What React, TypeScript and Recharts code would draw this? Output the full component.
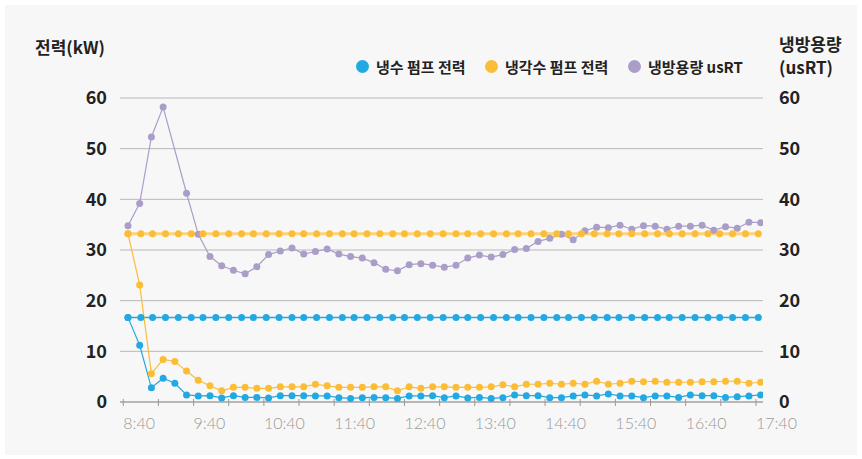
import { LineChart, Line, XAxis, YAxis, CartesianGrid } from 'recharts'

// measured points, every 10 minutes
const MEAS_TIMES = [
  '8:44', '8:54', '9:04', '9:14', '9:24', '9:34', '9:44', '9:54', '10:04', '10:14',
  '10:24', '10:34', '10:44', '10:54', '11:04', '11:14', '11:24', '11:34', '11:44', '11:54',
  '12:04', '12:14', '12:24', '12:34', '12:44', '12:54', '13:04', '13:14', '13:24', '13:34',
  '13:44', '13:54', '14:04', '14:14', '14:24', '14:34', '14:44', '14:54', '15:04', '15:14',
  '15:24', '15:34', '15:44', '15:54', '16:04', '16:14', '16:24', '16:34', '16:44', '16:54',
  '17:04', '17:14', '17:24', '17:34', '17:44',
]

const CHW_PUMP = [
  16.7, 11.2, 2.8, 4.7, 3.7, 1.4, 1.2, 1.25, 0.8, 1.25,
  0.9, 0.9, 0.8, 1.25, 1.25, 1.25, 1.2, 1.2, 0.85, 0.7,
  0.85, 0.9, 0.85, 0.7, 1.2, 1.2, 1.25, 0.85, 1.2, 0.8,
  0.9, 0.7, 0.85, 1.4, 1.25, 1.25, 0.85, 0.85, 1.2, 1.4,
  1.2, 1.6, 1.2, 1.2, 0.85, 1.2, 1.2, 0.9, 1.4, 1.25,
  1.25, 0.9, 1.05, 1.2, 1.4,
]

const CW_PUMP = [
  33.2, 23.1, 5.6, 8.4, 8.0, 6.1, 4.3, 3.2, 2.2, 2.9,
  2.9, 2.7, 2.7, 3.0, 3.0, 3.0, 3.5, 3.2, 2.9, 2.9,
  2.9, 3.0, 3.0, 2.2, 3.0, 2.7, 3.0, 3.0, 2.9, 2.9,
  2.9, 3.0, 3.4, 3.0, 3.5, 3.5, 3.7, 3.5, 3.7, 3.5,
  4.1, 3.5, 3.7, 4.1, 4.0, 4.1, 3.9, 3.9, 3.9, 4.0,
  4.0, 4.1, 4.1, 3.7, 3.9,
]

const COOLING_RT = [
  34.8, 39.2, 52.3, 58.2, null, 41.2, 33.1, 28.7, 26.9, 26.0,
  25.3, 26.7, 29.1, 29.8, 30.4, 29.2, 29.7, 30.2, 29.2, 28.7,
  28.4, 27.5, 26.2, 25.9, 27.1, 27.3, 27.0, 26.6, 27.0, 28.4,
  29.0, 28.6, 29.1, 30.1, 30.3, 31.7, 32.3, 33.1, 32.0, 33.8,
  34.5, 34.4, 34.9, 34.1, 34.8, 34.7, 34.1, 34.7, 34.7, 34.9,
  33.9, 34.6, 34.3, 35.5, 35.4,
]

// rated pump power lines
const RATED_TIMES = [
  '8:44', '8:55', '9:05', '9:16', '9:27', '9:38', '9:48', '9:59', '10:10', '10:21',
  '10:31', '10:42', '10:53', '11:04', '11:14', '11:25', '11:36', '11:47', '11:57', '12:08',
  '12:19', '12:30', '12:40', '12:51', '13:02', '13:13', '13:24', '13:34', '13:45', '13:56',
  '14:07', '14:17', '14:28', '14:39', '14:50', '15:00', '15:11', '15:22', '15:33', '15:43',
  '15:54', '16:05', '16:16', '16:26', '16:37', '16:48', '16:59', '17:09', '17:20', '17:31',
  '17:42',
]

const CHW_RATED = [
  16.7, 16.7, 16.7, 16.7, 16.7, 16.7, 16.7, 16.7, 16.7, 16.7,
  16.7, 16.7, 16.7, 16.7, 16.7, 16.7, 16.7, 16.7, 16.7, 16.7,
  16.7, 16.7, 16.7, 16.7, 16.7, 16.7, 16.7, 16.7, 16.7, 16.7,
  16.7, 16.7, 16.7, 16.7, 16.7, 16.7, 16.7, 16.7, 16.7, 16.7,
  16.7, 16.7, 16.7, 16.7, 16.7, 16.7, 16.7, 16.7, 16.7, 16.7,
  16.7,
]

const CW_RATED = [
  33.2, 33.2, 33.2, 33.2, 33.2, 33.2, 33.2, 33.2, 33.2, 33.2,
  33.2, 33.2, 33.2, 33.2, 33.2, 33.2, 33.2, 33.2, 33.2, 33.2,
  33.2, 33.2, 33.2, 33.2, 33.2, 33.2, 33.2, 33.2, 33.2, 33.2,
  33.2, 33.2, 33.2, 33.2, 33.2, 33.2, 33.2, 33.2, 33.2, 33.2,
  33.2, 33.2, 33.2, 33.2, 33.2, 33.2, 33.2, 33.2, 33.2, 33.2,
  33.2,
]

const HOUR_LABELS = ['8:40', '9:40', '10:40', '11:40', '12:40', '13:40', '14:40', '15:40', '16:40', '17:40']
const HALF_HOUR_TICKS = ['9:10', '10:10', '11:10', '12:10', '13:10', '14:10', '15:10', '16:10', '17:10']
const Y_TICKS = [0, 10, 20, 30, 40, 50, 60]

const BLUE = '#23a9e1'
const ORANGE = '#fbbd36'
const PURPLE = '#aa9ec9'
const KR = "'Noto Sans CJK KR', 'Noto Sans', sans-serif"

const toMin = (s: string) => {
  const [h, m] = s.split(':').map(Number)
  return h * 60 + m - (8 * 60 + 40)
}

const rows = (times: string[], vals: (number | null)[]) => times.map((s, i) => ({ t: toMin(s), v: vals[i] }))

const xTicks = [...HOUR_LABELS, ...HALF_HOUR_TICKS].map(toMin).sort((a, b) => a - b)
const labelAt: Record<number, string> = {}
HOUR_LABELS.forEach((s) => (labelAt[toMin(s)] = s))

function TimeTick({ x, y, payload }: any) {
  const label = labelAt[payload.value]
  return (
    <g>
      <line x1={x} x2={x} y1={y - 3} y2={y + 4} stroke="#999" />
      {label && (
        <text x={x} y={y + 27} textAnchor="start" fill="#9a9a9a" fontSize={16} fontWeight={300} fontFamily="Lato, sans-serif">
          {label}
        </text>
      )}
    </g>
  )
}

const dot = (c: string) => ({ r: 3.5, fill: c, stroke: c, strokeWidth: 0 })
const yTick = { fill: '#222', fontSize: 18, fontWeight: 700, fontFamily: KR }

export default function App() {
  return (
    <div style={{ position: 'relative', width: 862, height: 459, background: '#fff' }}>
      <style>{'body{margin:0}'}</style>
      <div style={{ position: 'absolute', left: 5, top: 5, width: 852, height: 450, background: '#f7f7f7' }} />
      <div style={{ position: 'absolute', left: 35, top: 34, fontFamily: KR, fontWeight: 700, fontSize: 17, color: '#222' }}>
        전력(kW)
      </div>
      <div style={{ position: 'absolute', left: 779, top: 32, fontFamily: KR, fontWeight: 700, fontSize: 17, lineHeight: '23px', color: '#222' }}>
        냉방용량
        <br />
        (usRT)
      </div>
      {[
        { name: '냉수 펌프 전력', color: BLUE, left: 356 },
        { name: '냉각수 펌프 전력', color: ORANGE, left: 485 },
        { name: '냉방용량 usRT', color: PURPLE, left: 628 },
      ].map((it) => (
        <div
          key={it.name}
          style={{ position: 'absolute', left: it.left, top: 56, display: 'flex', alignItems: 'center', fontFamily: KR, fontWeight: 700, fontSize: 15, color: '#222' }}
        >
          <span style={{ width: 13, height: 13, borderRadius: '50%', background: it.color, marginRight: 7 }} />
          {it.name}
        </div>
      ))}
      <div style={{ position: 'absolute', left: 0, top: 0 }}>
        <LineChart width={862} height={459} margin={{ top: 98, right: 39, bottom: 17, left: 60 }}>
          <CartesianGrid vertical={false} stroke="#b8b8b8" yAxisId="left" />
          <XAxis
            dataKey="t"
            type="number"
            domain={[-2.8, 546]}
            allowDataOverflow
            ticks={xTicks}
            interval={0}
            height={40}
            axisLine={{ stroke: '#999' }}
            tickLine={false}
            tickSize={0}
            tickMargin={0}
            tick={<TimeTick />}
          />
          <YAxis
            yAxisId="left"
            domain={[0, 60]}
            ticks={Y_TICKS}
            width={60}
            axisLine={false}
            tickLine={false}
            tickSize={0}
            tickMargin={13}
            tick={yTick}
          />
          <YAxis
            yAxisId="right"
            orientation="right"
            domain={[0, 60]}
            ticks={Y_TICKS}
            width={60}
            axisLine={false}
            tickLine={false}
            tickSize={0}
            tickMargin={16}
            tick={yTick}
          />
          <Line yAxisId="right" data={rows(MEAS_TIMES, COOLING_RT)} dataKey="v" stroke={PURPLE} strokeWidth={1.2} dot={dot(PURPLE)} activeDot={false} connectNulls isAnimationActive={false} />
          <Line yAxisId="left" data={rows(RATED_TIMES, CW_RATED)} dataKey="v" stroke="#fcd27c" strokeWidth={3} dot={dot(ORANGE)} activeDot={false} isAnimationActive={false} />
          <Line yAxisId="left" data={rows(RATED_TIMES, CHW_RATED)} dataKey="v" stroke={BLUE} strokeWidth={1.5} dot={dot(BLUE)} activeDot={false} isAnimationActive={false} />
          <Line yAxisId="left" data={rows(MEAS_TIMES, CW_PUMP)} dataKey="v" stroke={ORANGE} strokeWidth={1.2} dot={dot(ORANGE)} activeDot={false} isAnimationActive={false} />
          <Line yAxisId="left" data={rows(MEAS_TIMES, CHW_PUMP)} dataKey="v" stroke={BLUE} strokeWidth={1.2} dot={dot(BLUE)} activeDot={false} isAnimationActive={false} />
        </LineChart>
      </div>
    </div>
  )
}
